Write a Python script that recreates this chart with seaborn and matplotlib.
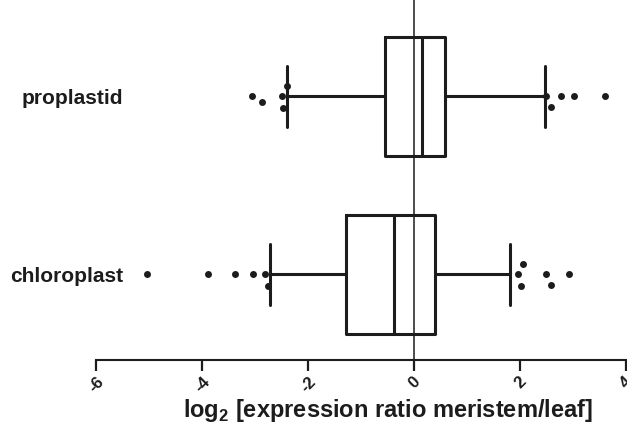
import matplotlib
matplotlib.use("Agg")
import matplotlib.pyplot as plt
import pandas as pd
import seaborn as sns

categories = ["proplastid", "chloroplast"]

# box summaries (whiskers are 10th/90th percentiles)
whisker_low = [-2.40, -2.72]
q1 = [-0.55, -1.28]
median = [0.145, -0.38]
q3 = [0.58, 0.40]
whisker_high = [2.47, 1.82]

proplastid_outliers = [-3.05, -2.87, -2.49, -2.48, -2.40, 2.49, 2.58, 2.77, 3.01, 3.61]
chloroplast_outliers = [-5.03, -3.89, -3.38, -3.04, -2.81, -2.75,
                        1.96, 2.01, 2.05, 2.49, 2.58, 2.92]

xticks = [-6, -4, -2, 0, 2, 4]
xlabel = r"log$_\mathrm{2}$ [expression ratio meristem/leaf]"

sns.set_theme(style="ticks")
plt.rcParams["font.family"] = ["Liberation Sans", "DejaVu Sans"]
plt.rcParams["font.weight"] = "bold"
plt.rcParams["mathtext.fontset"] = "custom"
plt.rcParams["mathtext.rm"] = "Liberation Sans:bold"

ink = "#1c1c1c"

fig = plt.figure(figsize=(6.27, 4.26), dpi=100)
ax = fig.add_axes([96 / 627, 66 / 426, 530 / 627, 360 / 426])

outliers = pd.DataFrame({
    "group": ["proplastid"] * len(proplastid_outliers)
    + ["chloroplast"] * len(chloroplast_outliers),
    "value": proplastid_outliers + chloroplast_outliers,
})

# transparent edge widens the swarm spacing without growing the dots
sns.swarmplot(data=outliers, x="value", y="group", order=categories,
              color=ink, size=5, linewidth=3, edgecolor=(1, 1, 1, 0),
              ax=ax, zorder=4)

stats = []
for i, name in enumerate(categories):
    stats.append(dict(label=name, whislo=whisker_low[i], q1=q1[i], med=median[i],
                      q3=q3[i], whishi=whisker_high[i], fliers=[]))

line = dict(color=ink, linewidth=2.2)
ax.bxp(stats, positions=range(len(categories)), widths=0.67, capwidths=0.34,
       orientation="horizontal", showfliers=False, manage_ticks=False,
       boxprops=line, whiskerprops=line, capprops=line, medianprops=line)

ax.axvline(0, color=ink, lw=1.1, zorder=1)

ax.set_xlim(-6, 4)
ax.set_ylim(1.48, -0.54)
ax.set_xticks(xticks)
ax.set_xticklabels([str(t) for t in xticks], rotation=45, ha="center")

sns.despine(ax=ax, left=True)
ax.spines["bottom"].set_linewidth(1.5)
ax.spines["bottom"].set_color(ink)
ax.tick_params(axis="x", length=8, width=1.6, color=ink, labelcolor=ink,
               labelsize=12, pad=2)
ax.tick_params(axis="y", length=0, pad=-19.5, labelsize=15, labelcolor=ink)

ax.set_ylabel("")
ax.set_xlabel(xlabel, fontsize=17, fontweight="bold", color=ink)
ax.xaxis.set_label_coords(0.551, -0.139)
ax.xaxis.label.set_va("center")

fig.savefig("out.png", dpi=100)
